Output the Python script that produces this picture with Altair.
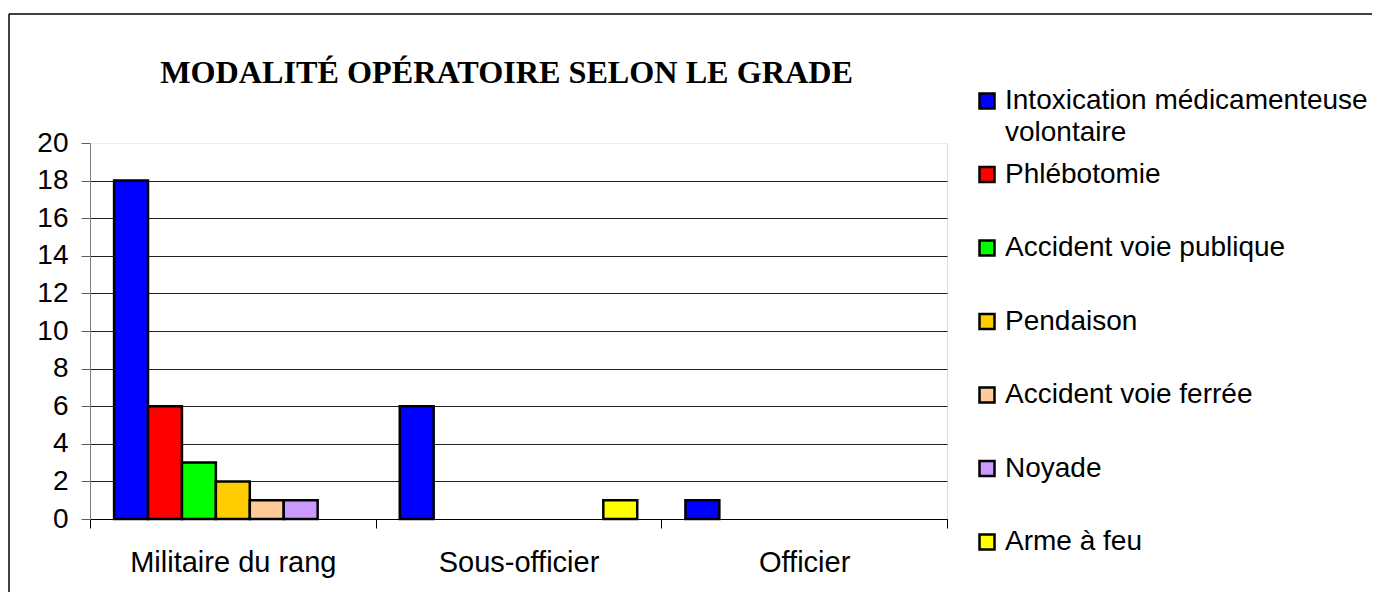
import altair as alt
import pandas as pd

groups = ["Militaire du rang", "Sous-officier", "Officier"]
series = [
    "Intoxication médicamenteuse volontaire",
    "Phlébotomie",
    "Accident voie publique",
    "Pendaison",
    "Accident voie ferrée",
    "Noyade",
    "Arme à feu",
]
legend_labels = [
    "Intoxication médicamenteuse\nvolontaire",
    "Phlébotomie",
    "Accident voie publique",
    "Pendaison",
    "Accident voie ferrée",
    "Noyade",
    "Arme à feu",
]
colors = ["#0000FF", "#FF0000", "#00FF00", "#FFCC00", "#FFCC99", "#CC99FF", "#FFFF00"]

militaire = [18, 6, 3, 2, 1, 1, 0]
sous_officier = [6, 0, 0, 0, 0, 0, 1]
officier = [1, 0, 0, 0, 0, 0, 0]
y_ticks = [0, 2, 4, 6, 8, 10, 12, 14, 16, 18, 20]

rows = []
for g, vals in zip(groups, [militaire, sous_officier, officier]):
    for s, v in zip(series, vals):
        rows.append({"grade": g, "mode": s, "value": v})
df = pd.DataFrame(rows)
leg = pd.DataFrame({"mode": series, "label": legend_labels})

color_scale = alt.Scale(domain=series, range=colors)

bars = (
    alt.Chart(df)
    .transform_filter("datum.value > 0")
    .mark_bar(stroke="black", strokeWidth=2.5)
    .encode(
        x=alt.X(
            "grade:N",
            sort=groups,
            scale=alt.Scale(paddingInner=0, paddingOuter=0),
            axis=alt.Axis(
                title=None,
                labelAngle=0,
                tickBand="extent",
                tickSize=9,
                tickColor="black",
                domainColor="black",
                labelFont="Liberation Sans",
                labelFontSize=29,
                labelColor="black",
                labelPadding=20,
                labelLimit=400,
                grid=False,
            ),
        ),
        xOffset=alt.XOffset(
            "mode:N", sort=series, scale=alt.Scale(domain=series, paddingInner=0, paddingOuter=0.71)
        ),
        y=alt.Y(
            "value:Q",
            scale=alt.Scale(domain=[0, 20], nice=False),
            axis=alt.Axis(
                title=None,
                values=y_ticks,
                tickSize=9,
                tickColor="#606060",
                domainColor="#808080",
                labelFont="Liberation Sans",
                labelFontSize=28,
                labelColor="black",
                labelPadding=13,
                grid=True,
                gridColor={"condition": {"test": "datum.value == 20", "value": "#eeeeee"}, "value": "#202020"},
                gridWidth=1,
            ),
        ),
        color=alt.Color("mode:N", scale=color_scale, legend=None),
    )
)

leg_y = alt.Y("mode:N", sort=series, scale=alt.Scale(type="point", domain=series, range=[-42, 399], padding=0), axis=None)

leg_sq = (
    alt.Chart(leg)
    .mark_square(size=225, stroke="black", strokeWidth=2.5, opacity=1, filled=True)
    .encode(
        x=alt.value(897),
        y=leg_y,
        color=alt.Color("mode:N", scale=color_scale, legend=None),
    )
)

leg_txt = (
    alt.Chart(leg)
    .mark_text(
        align="left",
        baseline="alphabetic",
        dy=8,
        font="Liberation Sans",
        fontSize=28,
        lineBreak="\n",
        lineHeight=32,
        color="black",
    )
    .encode(x=alt.value(915), y=leg_y, text="label:N")
)

frame_df = pd.DataFrame({"f": [0]})
frame_top = (
    alt.Chart(frame_df)
    .mark_rule(stroke="black", strokeWidth=1.5)
    .encode(x=alt.value(-81), x2=alt.value(1500), y=alt.value(-129))
)
frame_left = (
    alt.Chart(frame_df)
    .mark_rule(stroke="black", strokeWidth=1.5)
    .encode(x=alt.value(-81), y=alt.value(-129), y2=alt.value(900))
)

chart = (
    alt.layer(bars, leg_sq, leg_txt, frame_top, frame_left)
    .resolve_scale(y="independent")
    .properties(
        width=857,
        height=376,
        title=alt.TitleParams(
            text="MODALITÉ OPÉRATOIRE SELON LE GRADE",
            font="Liberation Serif",
            fontSize=32.2,
            fontWeight="bold",
            color="black",
            anchor="middle",
            frame="group",
            dx=-12,
            offset=-77,
        ),
        padding={"left": 82, "top": 135, "right": 425, "bottom": 73},
        autosize=alt.AutoSizeParams(type="none"),
    )
    .configure_view(stroke=None)
    .configure(background="white")
)

chart.save("out.html", embed_options={"renderer": "svg", "actions": False})
